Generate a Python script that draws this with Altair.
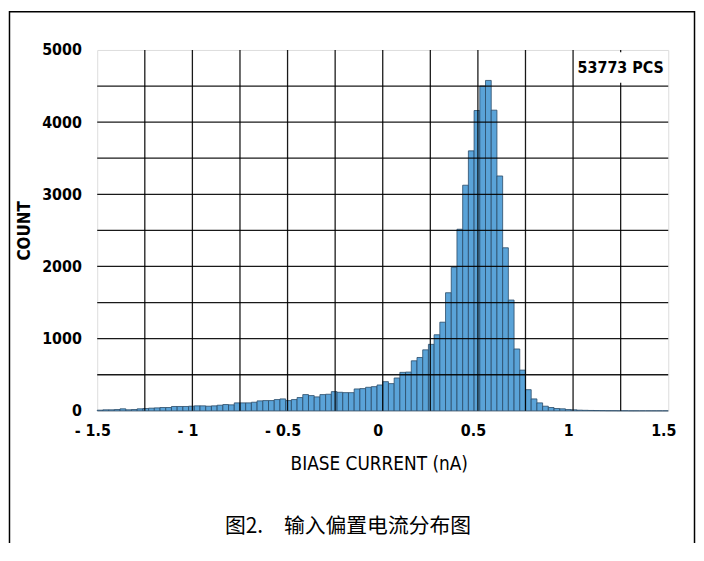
import altair as alt
import numpy as np
import pandas as pd

# ---- data ----
bin_lo, bin_hi, n_bins = -1.5, 1.5, 100
counts = [
    9, 14, 14, 18, 28, 14, 18, 28, 32, 37,
    41, 46, 46, 60, 60, 60, 64, 69, 69, 64,
    69, 78, 87, 83, 110, 110, 110, 119, 138, 142,
    142, 156,
    165, 142, 156, 184, 225, 211, 193, 225, 230, 266,
    257, 252, 252, 303, 308, 326, 335, 358, 404, 377,
    455, 533, 537, 693, 739, 845,
    921, 1054, 1228, 1636, 1989, 2516, 3126, 3602, 4161, 4500,
    4578, 4166, 3254, 2259, 1535, 857, 564, 293, 165, 110,
    64,
    46, 32, 28, 18, 14, 9, 7, 5, 4, 3,
    2, 2, 1, 1, 0, 0, 0, 0, 0, 0, 0,
]
x_label_values = [-1.5, -1, -0.5, 0, 0.5, 1, 1.5]
x_grid_values = [-1.25, -1, -0.75, -0.5, -0.25, 0, 0.25, 0.5, 0.75, 1, 1.25]
y_values = [0, 500, 1000, 1500, 2000, 2500, 3000, 3500, 4000, 4500, 5000]
y_grid_values = [500, 1000, 1500, 2000, 2500, 3000, 3500, 4000, 4500]
pcs_label = "53773 PCS"
x_title = "BIASE CURRENT (nA)"
y_title = "COUNT"
caption = "图2.\u3000输入偏置电流分布图"

edges = np.round(np.linspace(bin_lo, bin_hi, n_bins + 1), 4)
df = pd.DataFrame({"start": edges[:-1], "end": edges[1:], "count": counts})

NARROW = "'Liberation Sans Narrow', 'Arial Narrow', 'DejaVu Sans Condensed', 'Liberation Sans', Arial, sans-serif"
W, H = 576, 364

xscale = alt.Scale(domain=[-1.5, 1.5], nice=False, zero=False)
yscale = alt.Scale(domain=[0, 5000], nice=False)

bars = alt.Chart(df).mark_rect(
    fill="#5aa3d8", stroke="#2a4a68", strokeWidth=0.8
).encode(
    x=alt.X("start:Q", scale=xscale,
            axis=alt.Axis(values=x_label_values, grid=False, ticks=False, domain=False,
                          labelExpr="(datum.value < 0 ? '- ' : '') + format(abs(datum.value), '~g')",
                          labelFont=NARROW, labelFontSize=16, labelFontWeight="bold",
                          labelColor="black", labelPadding=12, labelFlush=False, labelOffset=-5,
                          title=x_title, titleFont=NARROW, titleFontSize=19,
                          titleFontWeight="normal", titleColor="black",
                          titleX=284, titleY=53, titleBaseline="middle", titleAlign="center")),
    x2="end:Q",
    y=alt.Y("count:Q", scale=yscale,
            axis=alt.Axis(values=y_values, grid=False, ticks=False, domain=False, format="d",
                          labelFont=NARROW, labelFontSize=16, labelFontWeight="bold",
                          labelColor="black", labelPadding=16,
                          title=y_title, titleFont=NARROW, titleFontSize=17,
                          titleFontWeight="bold", titleColor="black",
                          titleX=-73, titleY=182, titleAngle=-90,
                          titleBaseline="middle", titleAlign="center")),
    y2=alt.datum(0),
)

vgrid = alt.Chart(pd.DataFrame({"v": x_grid_values})).mark_rule(
    color="black", strokeWidth=1.3, opacity=0.9
).encode(x=alt.X("v:Q", scale=xscale))

hgrid = alt.Chart(pd.DataFrame({"v": y_grid_values})).mark_rule(
    color="black", strokeWidth=1.3, opacity=0.9
).encode(y=alt.Y("v:Q", scale=yscale))

label_df = pd.DataFrame({"label": [pcs_label]})
box = alt.Chart(label_df).mark_rect(fill="white").encode(
    x=alt.datum(1.006, scale=xscale), x2=alt.datum(1.494),
    y=alt.datum(4545, scale=yscale), y2=alt.datum(4968),
)
pcs = alt.Chart(label_df).mark_text(
    font=NARROW, fontSize=16, fontWeight="bold", color="black",
    align="center", baseline="middle"
).encode(
    x=alt.datum(1.25, scale=xscale), y=alt.datum(4755, scale=yscale), text="label:N"
)

cap_df = pd.DataFrame({"label": [caption]})
cap = alt.Chart(cap_df).mark_text(
    font="'Noto Sans CJK SC', sans-serif", fontSize=21, fontWeight="normal",
    color="black", align="center", baseline="middle"
).encode(x=alt.value(253), y=alt.value(481), text="label:N")

frame = alt.Chart(cap_df).mark_rect(
    fillOpacity=0, stroke="black", strokeWidth=1.5
).encode(x=alt.value(-88.5), x2=alt.value(602.5), y=alt.value(-38.5), y2=alt.value(540))

chart = alt.layer(bars, vgrid, hgrid, box, pcs, cap, frame).properties(
    width=W, height=H,
    autosize=alt.AutoSizeParams(type="none"),
    padding={"left": 90, "top": 40, "right": 28, "bottom": 131},
).configure_view(stroke="black", strokeWidth=1.5).configure(background="white")

chart.save("out.html", embed_options={"renderer": "svg", "actions": False})
